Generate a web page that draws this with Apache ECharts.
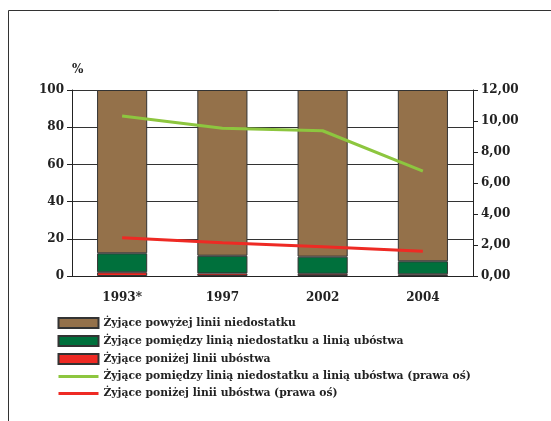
<!DOCTYPE html>
<html>
<head>
<meta charset="utf-8">
<script src="https://cdn.jsdelivr.net/npm/echarts@6/dist/echarts.min.js"></script>
<style>
  html, body { margin: 0; padding: 0; background: #fff; }
  #chart { width: 551px; height: 421px; }
</style>
</head>
<body>
<div id="chart"></div>
<script>
const years = ['1993*', '1997', '2002', '2004']
const belowPoverty = [2.0, 1.4, 1.2, 0.9]
const betweenLines = [10.2, 9.5, 9.2, 7.0]
const aboveMinimum = [87.8, 89.1, 89.6, 92.1]
const betweenLinesRight = [10.32, 9.53, 9.37, 6.77]
const belowPovertyRight = [2.47, 2.15, 1.89, 1.59]
const leftTicks = [0, 100, 20]
const rightTicks = [0, 12, 2]

const font = 'DejaVu Serif'
const ink = '#222'
const chart = echarts.init(document.getElementById('chart'))

const barStyle = (color) => ({ color, borderColor: '#333', borderWidth: 1 })
// line legend entries: keep the series stroke, hide the marker drawn on top of it
const lineLegend = (name) => ({
  name,
  itemStyle: { color: 'transparent', borderWidth: 0, opacity: 0 },
  lineStyle: { width: 3 }
})

chart.setOption({
  animation: false,
  textStyle: { fontFamily: font },
  graphic: [
    {
      type: 'polyline',
      shape: { points: [[8.5, 421], [8.5, 10.5], [551, 10.5]] },
      style: { stroke: '#333', lineWidth: 1, fill: null }
    },
    {
      type: 'text', left: 72, top: 64,
      style: { text: '%', font: 'bold 12px "DejaVu Serif"', fill: ink }
    }
  ],
  grid: { left: 72, right: 78, top: 90, bottom: 145 },
  legend: {
    orient: 'vertical',
    left: 57,
    top: 317,
    padding: 0,
    itemWidth: 40,
    itemHeight: 10,
    itemGap: 6,
    textStyle: { fontFamily: font, fontWeight: 'bold', fontSize: 10.75, color: ink },
    data: [
      { name: 'Żyjące powyżej linii niedostatku', icon: 'rect' },
      { name: 'Żyjące pomiędzy linią niedostatku a linią ubóstwa', icon: 'rect' },
      { name: 'Żyjące poniżej linii ubóstwa', icon: 'rect' },
      lineLegend('Żyjące pomiędzy linią niedostatku a linią ubóstwa (prawa oś)'),
      lineLegend('Żyjące poniżej linii ubóstwa (prawa oś)')
    ]
  },
  xAxis: {
    type: 'category',
    data: years,
    axisLine: { lineStyle: { color: ink } },
    axisTick: { lineStyle: { color: ink }, length: 5 },
    axisLabel: { color: ink, fontFamily: font, fontWeight: 'bold', fontSize: 12, margin: 16 }
  },
  yAxis: [
    {
      type: 'value',
      min: leftTicks[0], max: leftTicks[1], interval: leftTicks[2],
      axisLine: { show: true, lineStyle: { color: ink } },
      axisTick: { show: true, length: 5, lineStyle: { color: ink } },
      splitLine: { lineStyle: { color: '#333', width: 1 } },
      axisLabel: { color: ink, fontFamily: font, fontWeight: 'bold', fontSize: 12, margin: 8 }
    },
    {
      type: 'value',
      position: 'right',
      min: rightTicks[0], max: rightTicks[1], interval: rightTicks[2],
      axisLine: { show: true, lineStyle: { color: ink } },
      axisTick: { show: true, length: 5, lineStyle: { color: ink } },
      splitLine: { show: false },
      axisLabel: {
        color: ink, fontFamily: font, fontWeight: 'bold', fontSize: 12, margin: 8,
        formatter: (v) => v.toFixed(2).replace('.', ',')
      }
    }
  ],
  series: [
    {
      name: 'Żyjące poniżej linii ubóstwa',
      type: 'bar', stack: 'a', barWidth: '50%',
      itemStyle: barStyle('#ee2a24'),
      data: belowPoverty
    },
    {
      name: 'Żyjące pomiędzy linią niedostatku a linią ubóstwa',
      type: 'bar', stack: 'a',
      itemStyle: barStyle('#00703c'),
      data: betweenLines
    },
    {
      name: 'Żyjące powyżej linii niedostatku',
      type: 'bar', stack: 'a',
      itemStyle: barStyle('#94714a'),
      data: aboveMinimum
    },
    {
      name: 'Żyjące pomiędzy linią niedostatku a linią ubóstwa (prawa oś)',
      type: 'line', yAxisIndex: 1, symbol: 'none',
      lineStyle: { color: '#8dc63f', width: 3 },
      itemStyle: { color: '#8dc63f' },
      data: betweenLinesRight
    },
    {
      name: 'Żyjące poniżej linii ubóstwa (prawa oś)',
      type: 'line', yAxisIndex: 1, symbol: 'none',
      lineStyle: { color: '#ee2a24', width: 3 },
      itemStyle: { color: '#ee2a24' },
      data: belowPovertyRight
    }
  ]
})
</script>
</body>
</html>
